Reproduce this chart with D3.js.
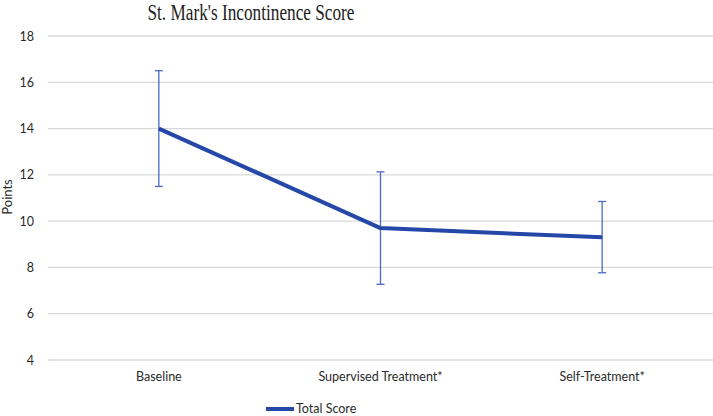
<!DOCTYPE html>
<html><head><meta charset="utf-8">
<script src="https://cdn.jsdelivr.net/npm/d3@7"></script>
<style>body{margin:0;background:#fff;} svg{display:block;}</style>
</head><body>
<svg id="c" width="713" height="416"></svg>
<script>
const categories = ["Baseline", "Supervised Treatment*", "Self-Treatment*"];
const totalScore = [14.0, 9.7, 9.3];
const errLow = [11.5, 7.27, 7.77];
const errHigh = [16.5, 12.13, 10.85];
const yTicks = [4, 6, 8, 10, 12, 14, 16, 18];

(function () {
const svg = d3.select("#c");
const mLeft = 48, mRight = 713, mTop = 36, mBottom = 360;
const x = d3.scaleBand().domain(categories).range([mLeft, mRight]);
const y = d3.scaleLinear().domain([4, 18]).range([mBottom, mTop]);
const cx = c => x(c) + x.bandwidth() / 2;
const sans = "Lato, 'Open Sans', 'Liberation Sans', sans-serif";
const txt = "#2b2b2b";

// grid
svg.append("g").selectAll("line").data(yTicks).join("line")
  .attr("x1", mLeft).attr("x2", mRight)
  .attr("y1", d => y(d)).attr("y2", d => y(d))
  .attr("stroke", "#d9d9d9").attr("stroke-width", 1.3);

// y axis labels
const yAxis = d3.axisLeft(y).tickValues(yTicks).tickSize(0).tickPadding(0);
const ya = svg.append("g").attr("transform", `translate(34,0)`).call(yAxis);
ya.select(".domain").remove();
ya.selectAll("text").attr("font-family", sans).attr("font-size", 12.5).attr("fill", txt);

// x axis labels
const xAxis = d3.axisBottom(x).tickSize(0).tickPadding(0);
const xa = svg.append("g").attr("transform", `translate(0,372)`).call(xAxis);
xa.select(".domain").remove();
xa.selectAll("text").attr("font-family", sans).attr("font-size", 12.5).attr("fill", txt);

// y title
svg.append("text").attr("transform", `translate(12,197) rotate(-90)`)
  .attr("text-anchor", "middle").attr("font-family", sans).attr("font-size", 13)
  .attr("fill", txt).text("Points");

// title
svg.append("text").attr("x", 251).attr("y", 20).attr("text-anchor", "middle")
  .attr("font-family", "'Liberation Serif', 'DejaVu Serif', serif")
  .attr("font-size", 22.5).attr("textLength", 207).attr("lengthAdjust", "spacingAndGlyphs")
  .attr("fill", "#222222").text("St. Mark's Incontinence Score");

// error bars
const eb = svg.append("g").attr("stroke", "#4a6bc2").attr("stroke-width", 1.3);
categories.forEach((c, i) => {
  const X = cx(c);
  eb.append("line").attr("x1", X).attr("x2", X).attr("y1", y(errLow[i])).attr("y2", y(errHigh[i]));
  eb.append("line").attr("x1", X - 4).attr("x2", X + 4).attr("y1", y(errLow[i])).attr("y2", y(errLow[i]));
  eb.append("line").attr("x1", X - 4).attr("x2", X + 4).attr("y1", y(errHigh[i])).attr("y2", y(errHigh[i]));
});

// line
const line = d3.line().x((d, i) => cx(categories[i])).y(d => y(d));
svg.append("path").datum(totalScore).attr("d", line).attr("fill", "none")
  .attr("stroke", "#2447a8").attr("stroke-width", 4).attr("stroke-linejoin", "round");

// legend
svg.append("line").attr("x1", 266).attr("x2", 294).attr("y1", 409).attr("y2", 409)
  .attr("stroke", "#2447a8").attr("stroke-width", 4);
svg.append("text").attr("x", 296).attr("y", 413).attr("font-family", sans).attr("font-size", 12.5)
  .attr("fill", txt).text("Total Score");
})();
</script>
</body></html>
